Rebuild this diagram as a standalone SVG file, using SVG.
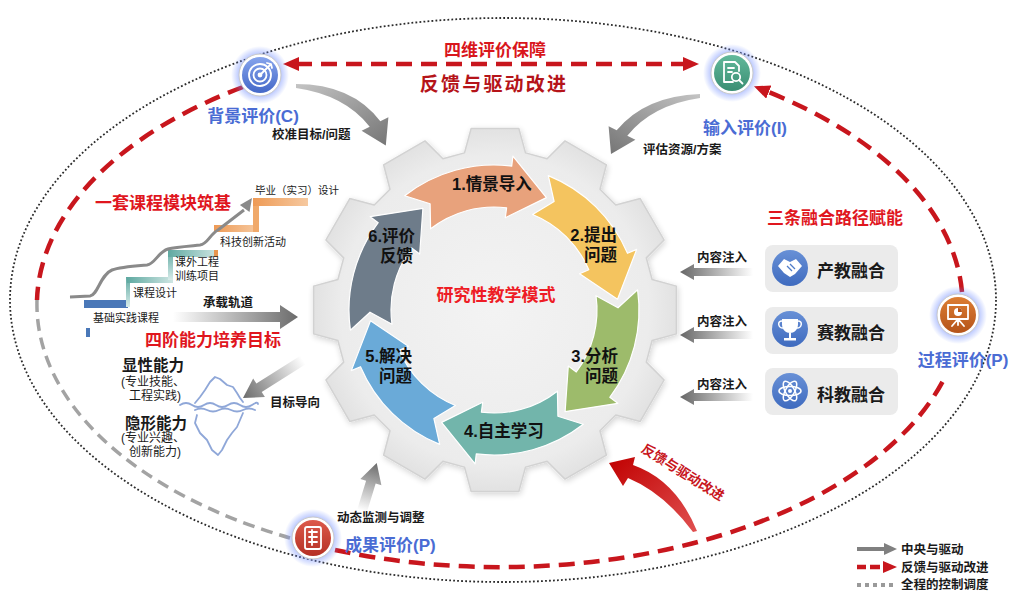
<svg xmlns="http://www.w3.org/2000/svg" width="1011" height="593" viewBox="0 0 1011 593">
<defs>
<style>
text{font-family:"Liberation Sans","Noto Sans CJK SC",sans-serif;}
.red-h{fill:#e0161e;font-weight:bold;font-size:17px;}
.blue{fill:#4a6cd4;font-weight:bold;font-size:17px;}
.lbl{fill:#1a1a1a;font-size:12.5px;font-weight:bold;}
.step{fill:#1a1a1a;font-size:11px;}
.arr{fill:#111;font-weight:bold;font-size:16.5px;}
.box-t{fill:#1a1a1a;font-weight:bold;font-size:17px;}
.dash-red{fill:none;stroke:#c8161d;stroke-width:4.5;stroke-dasharray:16 9;}
.dash-gray{fill:none;stroke:#a3a3a3;stroke-width:3.5;stroke-dasharray:12 7;}
.ring-arrow{stroke:#fff;stroke-width:1.2;stroke-linejoin:round;}
.ico-line{fill:none;stroke:#fff;stroke-width:1.8;stroke-linecap:round;stroke-linejoin:round;}
.box{fill:#ebebeb;}
</style>
<marker id="mRed" viewBox="0 0 16 14" refX="3" refY="7" markerWidth="16" markerHeight="14" markerUnits="userSpaceOnUse" orient="auto-start-reverse"><path d="M0,0 L16,7 L0,14 Z" fill="#c8161d"/></marker>
<radialGradient id="glow"><stop offset="0.55" stop-color="#6f8cff" stop-opacity="0.75"/><stop offset="1" stop-color="#6f8cff" stop-opacity="0"/></radialGradient>
<radialGradient id="gearFill" cx="0.5" cy="0.5" r="0.5"><stop offset="0" stop-color="#f3f3f3"/><stop offset="0.85" stop-color="#ececec"/><stop offset="1" stop-color="#e2e2e2"/></radialGradient>
<linearGradient id="icoBlue" x1="0" y1="0" x2="0" y2="1"><stop offset="0" stop-color="#86a4ec"/><stop offset="1" stop-color="#4468c8"/></linearGradient>
<linearGradient id="icoGreen" x1="0" y1="0" x2="0" y2="1"><stop offset="0" stop-color="#62b99b"/><stop offset="1" stop-color="#3a8e73"/></linearGradient>
<linearGradient id="icoOrange" x1="0" y1="0" x2="0" y2="1"><stop offset="0" stop-color="#dc7d32"/><stop offset="1" stop-color="#b5541a"/></linearGradient>
<linearGradient id="icoRed" x1="0" y1="0" x2="0" y2="1"><stop offset="0" stop-color="#dc5a4b"/><stop offset="1" stop-color="#b53024"/></linearGradient>
<linearGradient id="boxIco" x1="0" y1="0" x2="0" y2="1"><stop offset="0" stop-color="#6890d6"/><stop offset="1" stop-color="#3f6bbf"/></linearGradient>
<linearGradient id="grayRight" x1="0" y1="0" x2="1" y2="0"><stop offset="0" stop-color="#ffffff"/><stop offset="1" stop-color="#6b6b6b"/></linearGradient>
<linearGradient id="grayLeft" x1="0" y1="0" x2="1" y2="0"><stop offset="0" stop-color="#666666"/><stop offset="1" stop-color="#ffffff"/></linearGradient>
<linearGradient id="grayUp" x1="0" y1="1" x2="0" y2="0"><stop offset="0" stop-color="#ffffff"/><stop offset="1" stop-color="#6b6b6b"/></linearGradient>
<linearGradient id="grayCurve" x1="0" y1="0" x2="1" y2="1"><stop offset="0" stop-color="#c4c4c4"/><stop offset="1" stop-color="#757575"/></linearGradient>
<linearGradient id="grayCurve2" x1="1" y1="0" x2="0" y2="1"><stop offset="0" stop-color="#c4c4c4"/><stop offset="1" stop-color="#757575"/></linearGradient>
<linearGradient id="redCurve" x1="1" y1="1" x2="0" y2="0"><stop offset="0" stop-color="#e05050"/><stop offset="1" stop-color="#c00000"/></linearGradient>
<linearGradient id="teal1" x1="0" y1="0" x2="1" y2="0"><stop offset="0" stop-color="#5fa9a1"/><stop offset="1" stop-color="#cfe6e3"/></linearGradient>
<linearGradient id="tealV" x1="0" y1="0" x2="0" y2="1"><stop offset="0" stop-color="#5fa9a1"/><stop offset="1" stop-color="#d8ecea"/></linearGradient>
<linearGradient id="orange1" x1="0" y1="0" x2="1" y2="0"><stop offset="0" stop-color="#ee9a55"/><stop offset="1" stop-color="#f6c9a0"/></linearGradient>
<filter id="soft" x="-10%" y="-10%" width="120%" height="120%"><feGaussianBlur in="SourceAlpha" stdDeviation="3"/><feOffset dx="1" dy="2"/><feComponentTransfer><feFuncA type="linear" slope="0.18"/></feComponentTransfer><feMerge><feMergeNode/><feMergeNode in="SourceGraphic"/></feMerge></filter>
</defs>

<rect width="1011" height="593" fill="#ffffff"/>

<!-- outer control loop -->
<ellipse cx="503" cy="300" rx="493" ry="282" fill="none" stroke="#2a2a2a" stroke-width="1.8" stroke-dasharray="1.8 2.2"/>

<!-- gear with the six-step cycle -->
<g id="node-gear">
<polygon filter="url(#soft)" fill="url(#gearFill)" stroke="#d2d2d2" stroke-width="1.5" stroke-linejoin="round" points="464.5,152.9 471.1,128.6 518.9,128.6 525.5,152.9 547.1,158.7 565.0,140.9 606.4,164.8 600.0,189.2 615.8,205.0 640.2,198.6 664.1,240.0 646.3,257.9 652.1,279.5 676.4,286.1 676.4,333.9 652.1,340.5 646.3,362.1 664.1,380.0 640.2,421.4 615.8,415.0 600.0,430.8 606.4,455.2 565.0,479.1 547.1,461.3 525.5,467.1 518.9,491.4 471.1,491.4 464.5,467.1 442.9,461.3 425.0,479.1 383.6,455.2 390.0,430.8 374.2,415.0 349.8,421.4 325.9,380.0 343.7,362.1 337.9,340.5 313.6,333.9 313.6,286.1 337.9,279.5 343.7,257.9 325.9,240.0 349.8,198.6 374.2,205.0 390.0,189.2 383.6,164.8 425.0,140.9 442.9,158.7"/>
<text x="496" y="301" text-anchor="middle" style="fill:#ee1c25;font-weight:bold;font-size:17px">研究性教学模式</text>
</g>

<g id="step1">
<path class="ring-arrow" fill="#e8a27c" d="M404.7,195.7 A145,145 0 0 1 511.7,166.1 L512.9,156.2 L546.4,197.6 L505.3,217.7 L506.6,207.8 A103,103 0 0 0 430.6,228.8 L430.1,203.7 Z"/>
<text class="arr" x="492" y="190" text-anchor="middle">1.情景导入</text>
</g>
<g id="step2">
<path class="ring-arrow" fill="#f4c45f" d="M548.3,175.6 A145,145 0 0 1 627.5,253.3 L636.7,249.4 L617.5,299.2 L579.6,273.7 L588.8,269.8 A103,103 0 0 0 532.6,214.5 L554.1,201.5 Z"/>
<text class="arr" x="617" y="241" text-anchor="end">2.提出</text>
<text class="arr" x="617" y="261" text-anchor="end">问题</text>
</g>
<g id="step3">
<path class="ring-arrow" fill="#9dbb6b" d="M637.6,289.8 A145,145 0 0 1 609.8,397.3 L617.8,403.3 L565.1,411.6 L568.3,366.0 L576.3,372.0 A103,103 0 0 0 596.0,295.7 L618.0,307.8 Z"/>
<text class="arr" x="618" y="362" text-anchor="end">3.分析</text>
<text class="arr" x="618" y="382" text-anchor="end">问题</text>
</g>
<g id="step4">
<path class="ring-arrow" fill="#72b5ab" d="M583.3,424.3 A145,145 0 0 1 476.3,453.9 L475.1,463.8 L441.6,422.4 L482.7,402.3 L481.4,412.2 A103,103 0 0 0 557.4,391.2 L557.9,416.3 Z"/>
<text class="arr" x="504" y="437" text-anchor="middle">4.自主学习</text>
</g>
<g id="step5">
<path class="ring-arrow" fill="#6aaad8" d="M439.7,444.4 A145,145 0 0 1 360.5,366.7 L351.3,370.6 L370.5,320.8 L408.4,346.3 L399.2,350.2 A103,103 0 0 0 455.4,405.5 L433.9,418.5 Z"/>
<text class="arr" x="412" y="362" text-anchor="end">5.解决</text>
<text class="arr" x="412" y="382" text-anchor="end">问题</text>
</g>
<g id="step6">
<path class="ring-arrow" fill="#6e7c8a" d="M350.4,330.2 A145,145 0 0 1 378.2,222.7 L370.2,216.7 L422.9,208.4 L419.7,254.0 L411.7,248.0 A103,103 0 0 0 392.0,324.3 L370.0,312.2 Z"/>
<text class="arr" x="415" y="242" text-anchor="end">6.评价</text>
<text class="arr" x="413" y="262" text-anchor="end">反馈</text>
</g>

<!-- connectors -->
<g id="connectors">
<path class="dash-red" d="M296,64 L686,64" marker-start="url(#mRed)" marker-end="url(#mRed)"/>
<path class="dash-red" d="M243,87 A463,262 0 0 0 37,300"/>
<path class="dash-gray" d="M37,300 A463,262 0 0 0 290,538"/>
<path class="dash-red" d="M335,550 A463,262 0 0 0 946,375"/>
<path class="dash-red" d="M962,292 A463,262 0 0 0 766,91" marker-end="url(#mRed)"/>
<!-- evaluation arrows into the gear -->
<path fill="url(#grayCurve)" d="M296,84 Q352,84 380.3,121.3 L388.4,117.3 L385.8,145.4 L361.6,130.7 L369.7,126.7 Q345,95 296,88 Z"/>
<path fill="url(#grayCurve2)" d="M700,94 Q645,96 616.7,130.3 L608.6,126.3 L611,154 L635.4,139.7 L627.3,135.7 Q652,105 700,98 Z"/>
<path fill="url(#grayUp)" transform="translate(370,485) rotate(17)" d="M-5,27 L-5,-3 L-11,-3 L0,-23 L11,-3 L5,-3 L5,27 Z"/>
<path fill="url(#redCurve)" d="M697,531 Q676,480 633,465 L635,457 L609,463 L623,486 L628,478 Q664,493 693,532 Z"/>
<!-- course track and goal arrows -->
<path fill="url(#grayRight)" d="M173,312 L280,312 L280,305 L298,317 L280,329 L280,322 L173,322 Z"/>
<path fill="url(#grayRight)" transform="translate(303,360) rotate(147.7)" d="M0,-5 L52,-5 L52,-11 L71,0 L52,11 L52,5 L0,5 Z"/>
<!-- content injection arrows -->
<path fill="url(#grayLeft)" d="M753,268 L694,268 L694,264 L680,272 L694,280 L694,276 L753,276 Z"/>
<path fill="url(#grayLeft)" d="M753,331 L694,331 L694,327 L680,335 L694,343 L694,339 L753,339 Z"/>
<path fill="url(#grayLeft)" d="M753,393 L694,393 L694,389 L680,397 L694,405 L694,401 L753,401 Z"/>
</g>

<!-- labels of the outer loop -->
<text x="495" y="56" text-anchor="middle" style="fill:#d9161c;font-weight:bold;font-size:17px">四维评价保障</text>
<text x="494" y="91" text-anchor="middle" style="fill:#b51419;font-weight:bold;font-size:19px;letter-spacing:2.2px">反馈与驱动改进</text>
<text transform="translate(683,472) rotate(32)" x="0" y="5" text-anchor="middle" style="fill:#c8161d;font-weight:bold;font-size:13.5px">反馈与驱动改进</text>
<text class="lbl" x="272" y="139">校准目标/问题</text>
<text class="lbl" x="643" y="154">评估资源/方案</text>
<text class="lbl" x="337" y="522">动态监测与调整</text>

<!-- evaluation nodes -->
<g id="node-bg-eval">
<g transform="translate(260,75)">
<circle r="29" fill="url(#glow)"/>
<circle r="21" fill="#fff" stroke="#c9c9c9"/>
<circle r="18" fill="url(#icoBlue)"/>
<circle r="11" class="ico-line"/>
<circle r="6.5" class="ico-line"/>
<circle r="2.4" fill="#fff"/>
<path class="ico-line" d="M1,-1 L10,-10 M7,-12 L11,-11 L12,-7"/>
</g>
<text class="blue" x="253" y="122" text-anchor="middle">背景评价(C)</text>
</g>

<g id="node-input-eval">
<g transform="translate(732,73)">
<circle r="29" fill="url(#glow)"/>
<circle r="21" fill="#fff" stroke="#c9c9c9"/>
<circle r="18" fill="url(#icoGreen)"/>
<path class="ico-line" d="M1,9 L-8,9 L-8,-11 L3,-11 L7,-7 L7,-2 M-4,-5 L2,-5 M-4,-1 L0,-1"/>
<circle cx="4" cy="4" r="4.2" class="ico-line"/>
<path class="ico-line" d="M7,7 L10.5,10.5"/>
</g>
<text class="blue" x="745" y="134" text-anchor="middle">输入评价(I)</text>
</g>

<g id="node-process-eval">
<g transform="translate(958,315)">
<circle r="29" fill="url(#glow)"/>
<circle r="21" fill="#fff" stroke="#c9c9c9"/>
<circle r="18" fill="url(#icoOrange)"/>
<rect x="-10" y="-10" width="20" height="14" class="ico-line"/>
<circle cx="0" cy="-3" r="4" fill="#fff"/>
<path d="M0,-3 L0,-7 A4,4 0 0 1 4,-3 Z" fill="#b5541a"/>
<path class="ico-line" d="M0,4 L-6,11 M0,4 L6,11 M0,4 L0,10"/>
</g>
<text class="blue" x="963" y="366" text-anchor="middle">过程评价(P)</text>
</g>

<g id="node-output-eval">
<g transform="translate(313,538)">
<circle r="29" fill="url(#glow)"/>
<circle r="21" fill="#fff" stroke="#c9c9c9"/>
<circle r="18" fill="url(#icoRed)"/>
<rect x="-8" y="-11" width="16" height="22" rx="2" class="ico-line"/>
<path class="ico-line" d="M-4,-6 L4,-6 M-4,-1 L4,-1 M-4,4 L4,4 M-1,-8 L-1,7"/>
</g>
<text class="blue" x="345" y="551">成果评价(P)</text>
</g>

<!-- course module staircase -->
<g id="node-courses">
<text class="red-h" x="95" y="209">一套课程模块筑基</text>
<rect x="84" y="300" width="44" height="8" fill="#4a78b8"/>
<rect x="86" y="328" width="4" height="9" fill="#4a78b8"/>
<rect x="126" y="277" width="4" height="30" fill="url(#tealV)"/>
<rect x="127" y="277" width="46" height="6" fill="url(#teal1)"/>
<rect x="168" y="250" width="5" height="30" fill="url(#tealV)"/>
<rect x="168" y="250" width="50" height="7" fill="url(#teal1)"/>
<rect x="214" y="250" width="4" height="7" fill="#e8964f"/>
<rect x="214" y="225" width="44" height="7" fill="url(#orange1)"/>
<rect x="253" y="198" width="6" height="34" fill="#f0a96a"/>
<rect x="253" y="198" width="55" height="8" fill="url(#orange1)"/>
<path d="M70,297 L90,296 C98,295 100,275 112,270 C120,267 135,266 147,265 C155,264 158,252 168,249 C175,247 190,246 200,245 C208,244 210,234 218,230 L244,210" fill="none" stroke="#8a8a8a" stroke-width="3" stroke-linejoin="round"/>
<polygon points="252,198 249.5,212.1 239.9,204.9" fill="#8a8a8a"/>
<text class="step" x="93" y="322">基础实践课程</text>
<text class="step" x="133" y="297">课程设计</text>
<text class="step" x="175" y="266">课外工程</text>
<text class="step" x="175" y="280">训练项目</text>
<text class="step" x="220" y="246">科技创新活动</text>
<text class="step" x="255" y="194" style="font-size:10.5px">毕业（实习）设计</text>
<text class="lbl" x="203" y="307">承载轨道</text>
</g>

<!-- four-level ability goals -->
<g id="node-abilities">
<text class="red-h" x="145" y="346">四阶能力培养目标</text>
<text x="153" y="371" text-anchor="middle" style="fill:#1a1a1a;font-weight:bold;font-size:15.5px">显性能力</text>
<text x="153" y="386" text-anchor="middle" style="fill:#1a1a1a;font-size:12px">(专业技能、</text>
<text x="155" y="400" text-anchor="middle" style="fill:#1a1a1a;font-size:12px">工程实践)</text>
<text x="156" y="429" text-anchor="middle" style="fill:#1a1a1a;font-weight:bold;font-size:15.5px">隐形能力</text>
<text x="153" y="442" text-anchor="middle" style="fill:#1a1a1a;font-size:12px">(专业兴趣、</text>
<text x="155" y="456" text-anchor="middle" style="fill:#1a1a1a;font-size:12px">创新能力)</text>
<g fill="none" stroke="#8fa7d8" stroke-width="1.8" stroke-linejoin="round" stroke-linecap="round">
<path d="M195,403 L200,397 L205,390 L210,382 L215,377 L220,379 L227,385 L233,387 L237,393 L240,398 L243,402"/>
<path d="M180,405 q6,-4 12,0 t12,0 t12,0 t12,0 t12,0 t12,0 t6,-1"/>
<path d="M195,410 q6,-3 12,0 t12,0 t12,0 t12,0 t12,0"/>
<path d="M197,415 L195,423 L200,433 L207,440 L212,450 L218,455 L222,450 L227,440 L232,433 L237,427 L240,420 L243,413"/>
</g>
<text class="lbl" x="270" y="407">目标导向</text>
</g>

<!-- three integration paths -->
<g id="node-paths">
<text class="red-h" x="767" y="224">三条融合路径赋能</text>
<text class="lbl" x="697" y="262">内容注入</text>
<text class="lbl" x="697" y="326">内容注入</text>
<text class="lbl" x="697" y="389">内容注入</text>
</g>
<g id="node-industry">
<rect class="box" x="765" y="245" width="133" height="47" rx="8"/>
<circle cx="790" cy="268" r="18" fill="url(#boxIco)"/>
<path d="M778,266 L784,259 L790,262 L796,259 L802,266 L795,274 L790,277 L784,273 Z" fill="#fff"/>
<path d="M787,266 L792,271 M790,264 L795,269" stroke="#4f7cc9" stroke-width="1.3"/>
<text class="box-t" x="817" y="277">产教融合</text>
</g>
<g id="node-competition">
<rect class="box" x="765" y="307" width="133" height="47" rx="8"/>
<circle cx="790" cy="329" r="18" fill="url(#boxIco)"/>
<path d="M782,319 L798,319 L798,324 C798,330 794,333 790,333 C786,333 782,330 782,324 Z" fill="#fff"/>
<path d="M782,321 C777,321 778,328 783,328 M798,321 C803,321 802,328 797,328" fill="none" stroke="#fff" stroke-width="1.5"/>
<rect x="789" y="333" width="2" height="5" fill="#fff"/>
<rect x="784" y="338" width="12" height="2.5" fill="#fff"/>
<text class="box-t" x="817" y="339">赛教融合</text>
</g>
<g id="node-science">
<rect class="box" x="765" y="368" width="133" height="47" rx="8"/>
<circle cx="790" cy="391" r="18" fill="url(#boxIco)"/>
<g transform="translate(790,391)" fill="none" stroke="#fff" stroke-width="1.5">
<ellipse rx="11" ry="4.5"/>
<ellipse rx="11" ry="4.5" transform="rotate(60)"/>
<ellipse rx="11" ry="4.5" transform="rotate(120)"/>
<circle r="2" fill="#fff" stroke="none"/>
</g>
<text class="box-t" x="817" y="401">科教融合</text>
</g>

<!-- legend -->
<g id="legend">
<path d="M857,549 L885,549" stroke="#808080" stroke-width="4"/>
<polygon points="884,543 897,549 884,555" fill="#808080"/>
<text class="lbl" x="901" y="554">中央与驱动</text>
<path d="M857,567 L866,567 M870,567 L880,567" stroke="#c8161d" stroke-width="4.5"/>
<polygon points="883,561 897,567 883,573" fill="#c8161d"/>
<text class="lbl" x="901" y="572">反馈与驱动改进</text>
<path d="M857,585 L895,585" stroke="#9a9a9a" stroke-width="4" stroke-dasharray="4 4"/>
<text class="lbl" x="901" y="589">全程的控制调度</text>
</g>
</svg>
